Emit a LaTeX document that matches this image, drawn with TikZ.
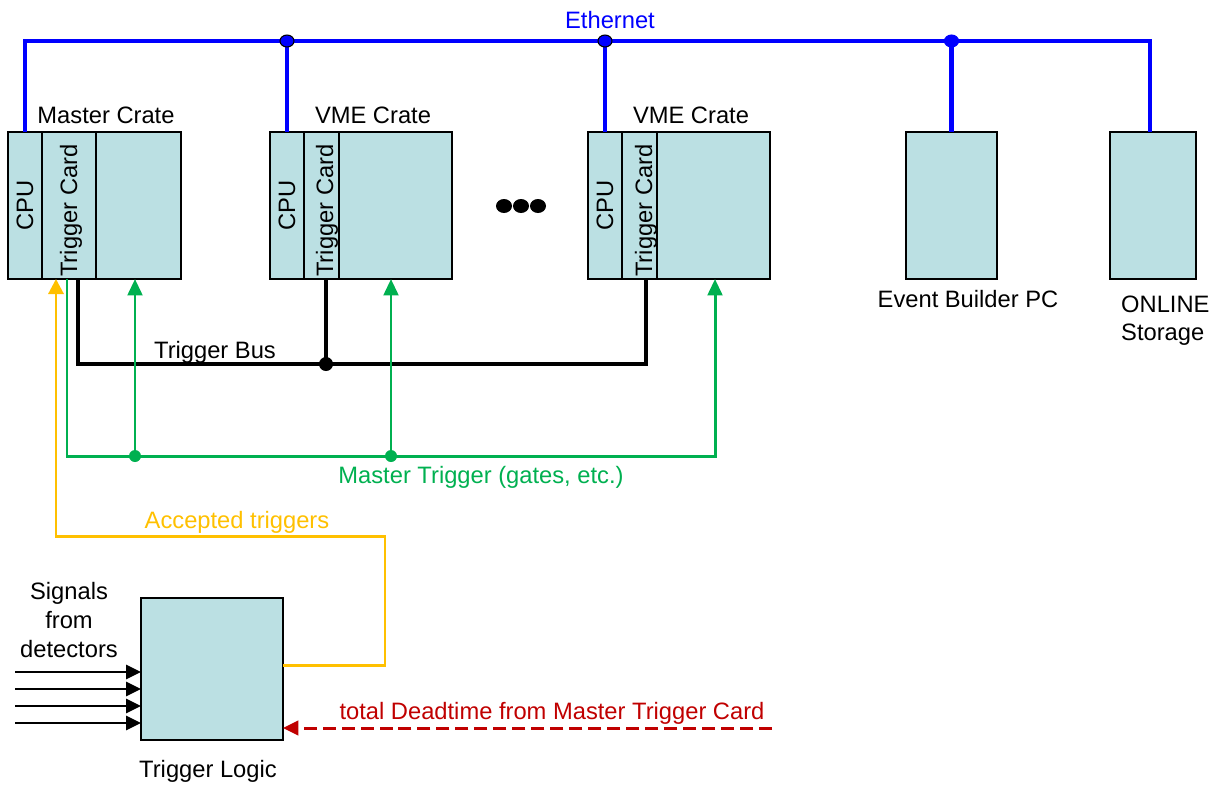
\documentclass[tikz,border=0pt]{standalone}
\usepackage{fontspec}
\setmainfont{Liberation Sans}
\usetikzlibrary{positioning, shapes.geometric, arrows.meta}
\definecolor{cratefill}{RGB}{187,224,227}
\definecolor{gategreen}{RGB}{0,176,80}
\definecolor{accyellow}{RGB}{255,192,0}
\definecolor{deadred}{RGB}{192,0,0}
\tikzstyle{cell}=[draw, fill=cratefill, line width=0.85pt, minimum height=2.94cm, inner sep=0, outer sep=0]
\tikzstyle{ether}=[blue, line width=2.3pt]
\tikzstyle{edot}=[shape=ellipse, minimum width=0.28cm, minimum height=0.24cm, inner sep=0, fill=blue, draw=black, line width=0.6pt]
\tikzstyle{bus}=[line width=2.3pt]
\tikzstyle{bdot}=[shape=circle, minimum size=0.28cm, inner sep=0, fill=black]
\tikzstyle{gate}=[gategreen, line width=1.7pt, >={Triangle[length=9.4pt, width=8.4pt]}]
\tikzstyle{gdot}=[shape=circle, minimum size=0.24cm, inner sep=0, fill=gategreen]
\tikzstyle{accept}=[accyellow, line width=1.7pt, >={Triangle[length=8.6pt, width=8.6pt]}]
\tikzstyle{dead}=[deadred, line width=1.7pt, dash pattern=on 7.4pt off 3.4pt, >={Triangle[length=8.8pt, width=8.2pt]}]
\tikzstyle{sig}=[line width=1.1pt, ->, >={Triangle[length=8.4pt, width=8pt]}]

\begin{document}
\begin{tikzpicture}[x=0.02cm, y=-0.02cm, font=\fontsize{13.5}{16.5}\selectfont]
\useasboundingbox (0,0) rectangle (1216,785);

% crates: cpu, trigger card, remaining slots
\foreach \n/\x/\tw/\sw/\ts/\lx/\lab in {m/8/1.08/1.7/0.04/106/Master Crate, v/270/0.7/2.26/0.11/373/VME Crate, w/588/0.7/2.26/0.13/691/VME Crate}{
	\node[cell, minimum width=0.68cm, anchor=north west] (\n cpu) at (\x,132) {\rotatebox{90}{CPU}};
	\node[cell, minimum width=\tw cm, right=0pt of \n cpu] (\n trig) {};
	\node[cell, minimum width=\sw cm, right=0pt of \n trig] (\n slot) {};
	\node[xshift=\ts cm, yshift=-0.1cm] (\n tc) at (\n trig) {\rotatebox{90}{Trigger Card}};
	\node[anchor=base] (\n lab) at (\lx,123) {\lab};
}
\foreach \x in {504,521,538}
	\fill (\x,206) ellipse (0.16cm and 0.14cm);

\node[cell, minimum width=1.82cm, anchor=north west] (evb) at (906,132) {};
\node[anchor=base] (evblab) at (968,307) {Event Builder PC};
\node[cell, minimum width=1.72cm, anchor=north west] (stor) at (1110,132) {};
\node[anchor=base west, align=left] (storlab) at (1115,340) {ONLINE\\[-1pt]Storage};

\node[cell, minimum width=2.84cm, minimum height=2.84cm, anchor=north west] (logic) at (141,598) {};
\node[anchor=base] (logiclab) at (208,777) {Trigger Logic};
\node[anchor=base, align=center] (sigtext) at (69,657) {Signals\\from\\detectors};

% ethernet
\coordinate (ethR) at (1150,41);
\draw[ether] (mcpu.north) |- (ethR) -- (ethR |- stor.north);
\draw[ether] (vcpu.north) -- (vcpu.north |- ethR) node[edot]{};
\draw[ether] (wcpu.north) -- (wcpu.north |- ethR) node[edot]{};
\draw[ether] (evb.north) -- (evb.north |- ethR) node[edot, draw=blue]{};
\node[blue, anchor=base] (ethlab) at (610,28) {Ethernet};

% trigger bus
\coordinate (bL) at (78,364);
\coordinate (bR) at (646,364);
\coordinate (b2) at (326,364);
\draw[bus] (mtrig.south -| bL) -- (bL) -- (bR) -- (bR |- wtrig.south);
\draw[bus] (vtrig.south -| b2) -- (b2) node[bdot]{};
\node[anchor=base] (buslab) at (215,358) {Trigger Bus};

% master trigger
\coordinate (gL) at (67,456);
\coordinate (gR) at (715,456);
\coordinate (g1) at (135,456);
\coordinate (g2) at (391,456);
\draw[gate,->] (mtrig.south -| gL) -- (gL) -- (gR) -- (gR |- wslot.south);
\draw[gate,->] (g1) node[gdot]{} -- (g1 |- mslot.south);
\draw[gate,->] (g2) node[gdot]{} -- (g2 |- vslot.south);
\node[gategreen, anchor=base] (gatelab) at (481,483) {Master Trigger (gates, etc.)};

% accepted triggers
\coordinate (y1) at (56,536);
\coordinate (y2) at (385,536);
\coordinate (y3) at (385,665);
\draw[accept,->] (logic.east |- y3) -- (y3) -- (y2) -- (y1) -- (y1 |- mtrig.south);
\node[accyellow, anchor=base] (acclab) at (237,528) {Accepted triggers};

% deadtime
\coordinate (dt) at (772,728);
\draw[dead,->] (dt) -- (dt -| logic.east);
\node[deadred, anchor=base] (deadlab) at (552,719) {total Deadtime from Master Trigger Card};

% detector inputs
\foreach \i/\y in {1/672,2/689,3/706,4/723}{
	\coordinate (in\i) at (15,\y);
	\draw[sig] (in\i) -- (in\i -| logic.west);
}
\end{tikzpicture}
\end{document}
